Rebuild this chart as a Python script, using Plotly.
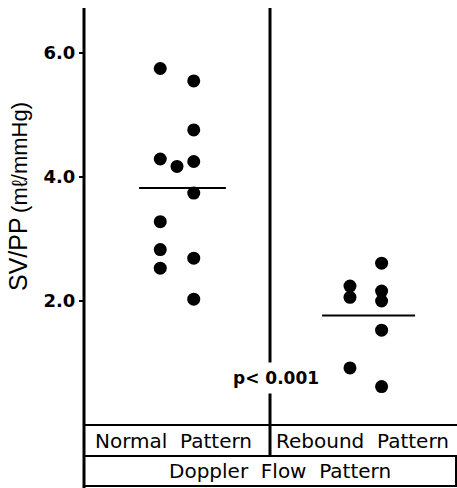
import plotly.graph_objects as go

# ---- data ----
groups = ["Normal Pattern", "Rebound Pattern"]
group_pos = [1.0, 2.0]
normal_values = [5.75, 4.29, 3.28, 2.83, 2.53, 5.55, 4.76, 4.25, 3.74, 2.69, 2.03, 4.17]
normal_offsets = [-0.09, -0.09, -0.09, -0.09, -0.09, 0.09, 0.09, 0.09, 0.09, 0.09, 0.09, 0.0]
rebound_values = [2.24, 2.06, 0.92, 2.61, 2.16, 2.00, 1.53, 0.62]
rebound_offsets = [-0.07, -0.07, -0.07, 0.10, 0.10, 0.10, 0.10, 0.10]
ytick_vals = [2, 4, 6]
ytick_text = ["2.0", "4.0", "6.0"]
p_text = "p< 0.001"
x_title = "Doppler Flow Pattern"
y_title = "SV/PP"
y_unit = "(mℓ/mmHg)"

W, H = 457, 488
L, R, T, B = 84, 0, 8, 63
plot_h = H - T - B
plot_w = W - L - R
px_per_unit_y = 62.0
px_per_unit_x = 186.0
y_max = plot_h / px_per_unit_y
x_min = 0.5
x_max = x_min + plot_w / px_per_unit_x


def py(pix):
    """pixel row -> paper y"""
    return (H - B - pix) / plot_h


def px(pix):
    return (pix - L) / plot_w


fig = go.Figure()

series = [(normal_values, normal_offsets), (rebound_values, rebound_offsets)]
mean_spans = [(-0.204, 0.263), (-0.22, 0.28)]
for gp, (vals, offs), (a, b) in zip(group_pos, series, mean_spans):
    fig.add_trace(go.Scatter(
        x=[gp + o for o in offs], y=vals, mode="markers",
        marker=dict(size=13, color="black", line=dict(width=0)),
        showlegend=False, cliponaxis=False))
    m = sum(vals) / len(vals)
    fig.add_trace(go.Scatter(
        x=[gp + a, gp + b], y=[m, m], mode="lines",
        line=dict(color="black", width=2), showlegend=False))

tick_font = dict(family="DejaVu Sans, sans-serif", size=18, color="black", weight="bold")

fig.update_layout(
    width=W, height=H,
    margin=dict(l=L, r=R, t=T, b=B, pad=0),
    paper_bgcolor="white", plot_bgcolor="white",
    xaxis=dict(range=[x_min, x_max], showgrid=False, zeroline=False,
               showticklabels=False, ticks="", showline=False),
    yaxis=dict(range=[0, y_max], showgrid=False, zeroline=False,
               tickvals=ytick_vals, ticktext=ytick_text, ticks="outside",
               ticklen=4, tickwidth=2, tickcolor="black",
               showline=False, tickfont=tick_font),
)

lw = 2
shapes = [
    dict(type="line", xref="paper", yref="paper", x0=0, x1=0, y0=py(488), y1=1,
         line=dict(color="black", width=3)),
    dict(type="line", xref="x", yref="paper", x0=1.5, x1=1.5, y0=py(456), y1=1,
         line=dict(color="black", width=3)),
    dict(type="line", xref="paper", yref="paper", x0=0, x1=1, y0=0, y1=0,
         line=dict(color="black", width=lw)),
    dict(type="line", xref="paper", yref="paper", x0=0, x1=1, y0=py(456), y1=py(456),
         line=dict(color="black", width=lw)),
    dict(type="line", xref="paper", yref="paper", x0=0, x1=1, y0=py(486), y1=py(486),
         line=dict(color="black", width=lw)),
    dict(type="line", xref="paper", yref="paper", x0=px(456), x1=px(456), y0=py(456), y1=py(486),
         line=dict(color="black", width=lw)),
]
fig.update_layout(shapes=shapes)

table_font = dict(family="DejaVu Sans, sans-serif", size=20, color="black")
annotations = [
    dict(text=groups[0].replace(" ", "\u00a0\u00a0"), xref="paper", yref="paper",
         x=px(93), y=py(441), xanchor="left", yanchor="middle", showarrow=False, font=table_font),
    dict(text=groups[1].replace(" ", "\u00a0\u00a0"), xref="paper", yref="paper",
         x=px(274), y=py(441), xanchor="left", yanchor="middle", showarrow=False, font=table_font),
    dict(text=x_title.replace(" ", "\u00a0\u00a0"), xref="paper", yref="paper",
         x=px(280), y=py(471), xanchor="center", yanchor="middle", showarrow=False, font=table_font),
    dict(text=p_text, xref="x", yref="y", x=1.5 + 5.5 / px_per_unit_x, y=(H - B - 378) / px_per_unit_y,
         xanchor="center", yanchor="middle", showarrow=False, bgcolor="white", borderpad=5,
         font=dict(family="DejaVu Sans, sans-serif", size=17, color="black", weight="bold")),
    dict(text=f"<span style='font-size:25px'>{y_title}</span>"
              f"<span style='font-size:22px'>\u2009{y_unit}</span>",
         xref="paper", yref="paper", x=px(18), y=py(197), xanchor="center", yanchor="middle",
         textangle=-90, showarrow=False,
         font=dict(family="Liberation Sans, Arial, sans-serif", color="black")),
]
fig.update_layout(annotations=annotations)

fig.write_html("out.html")
